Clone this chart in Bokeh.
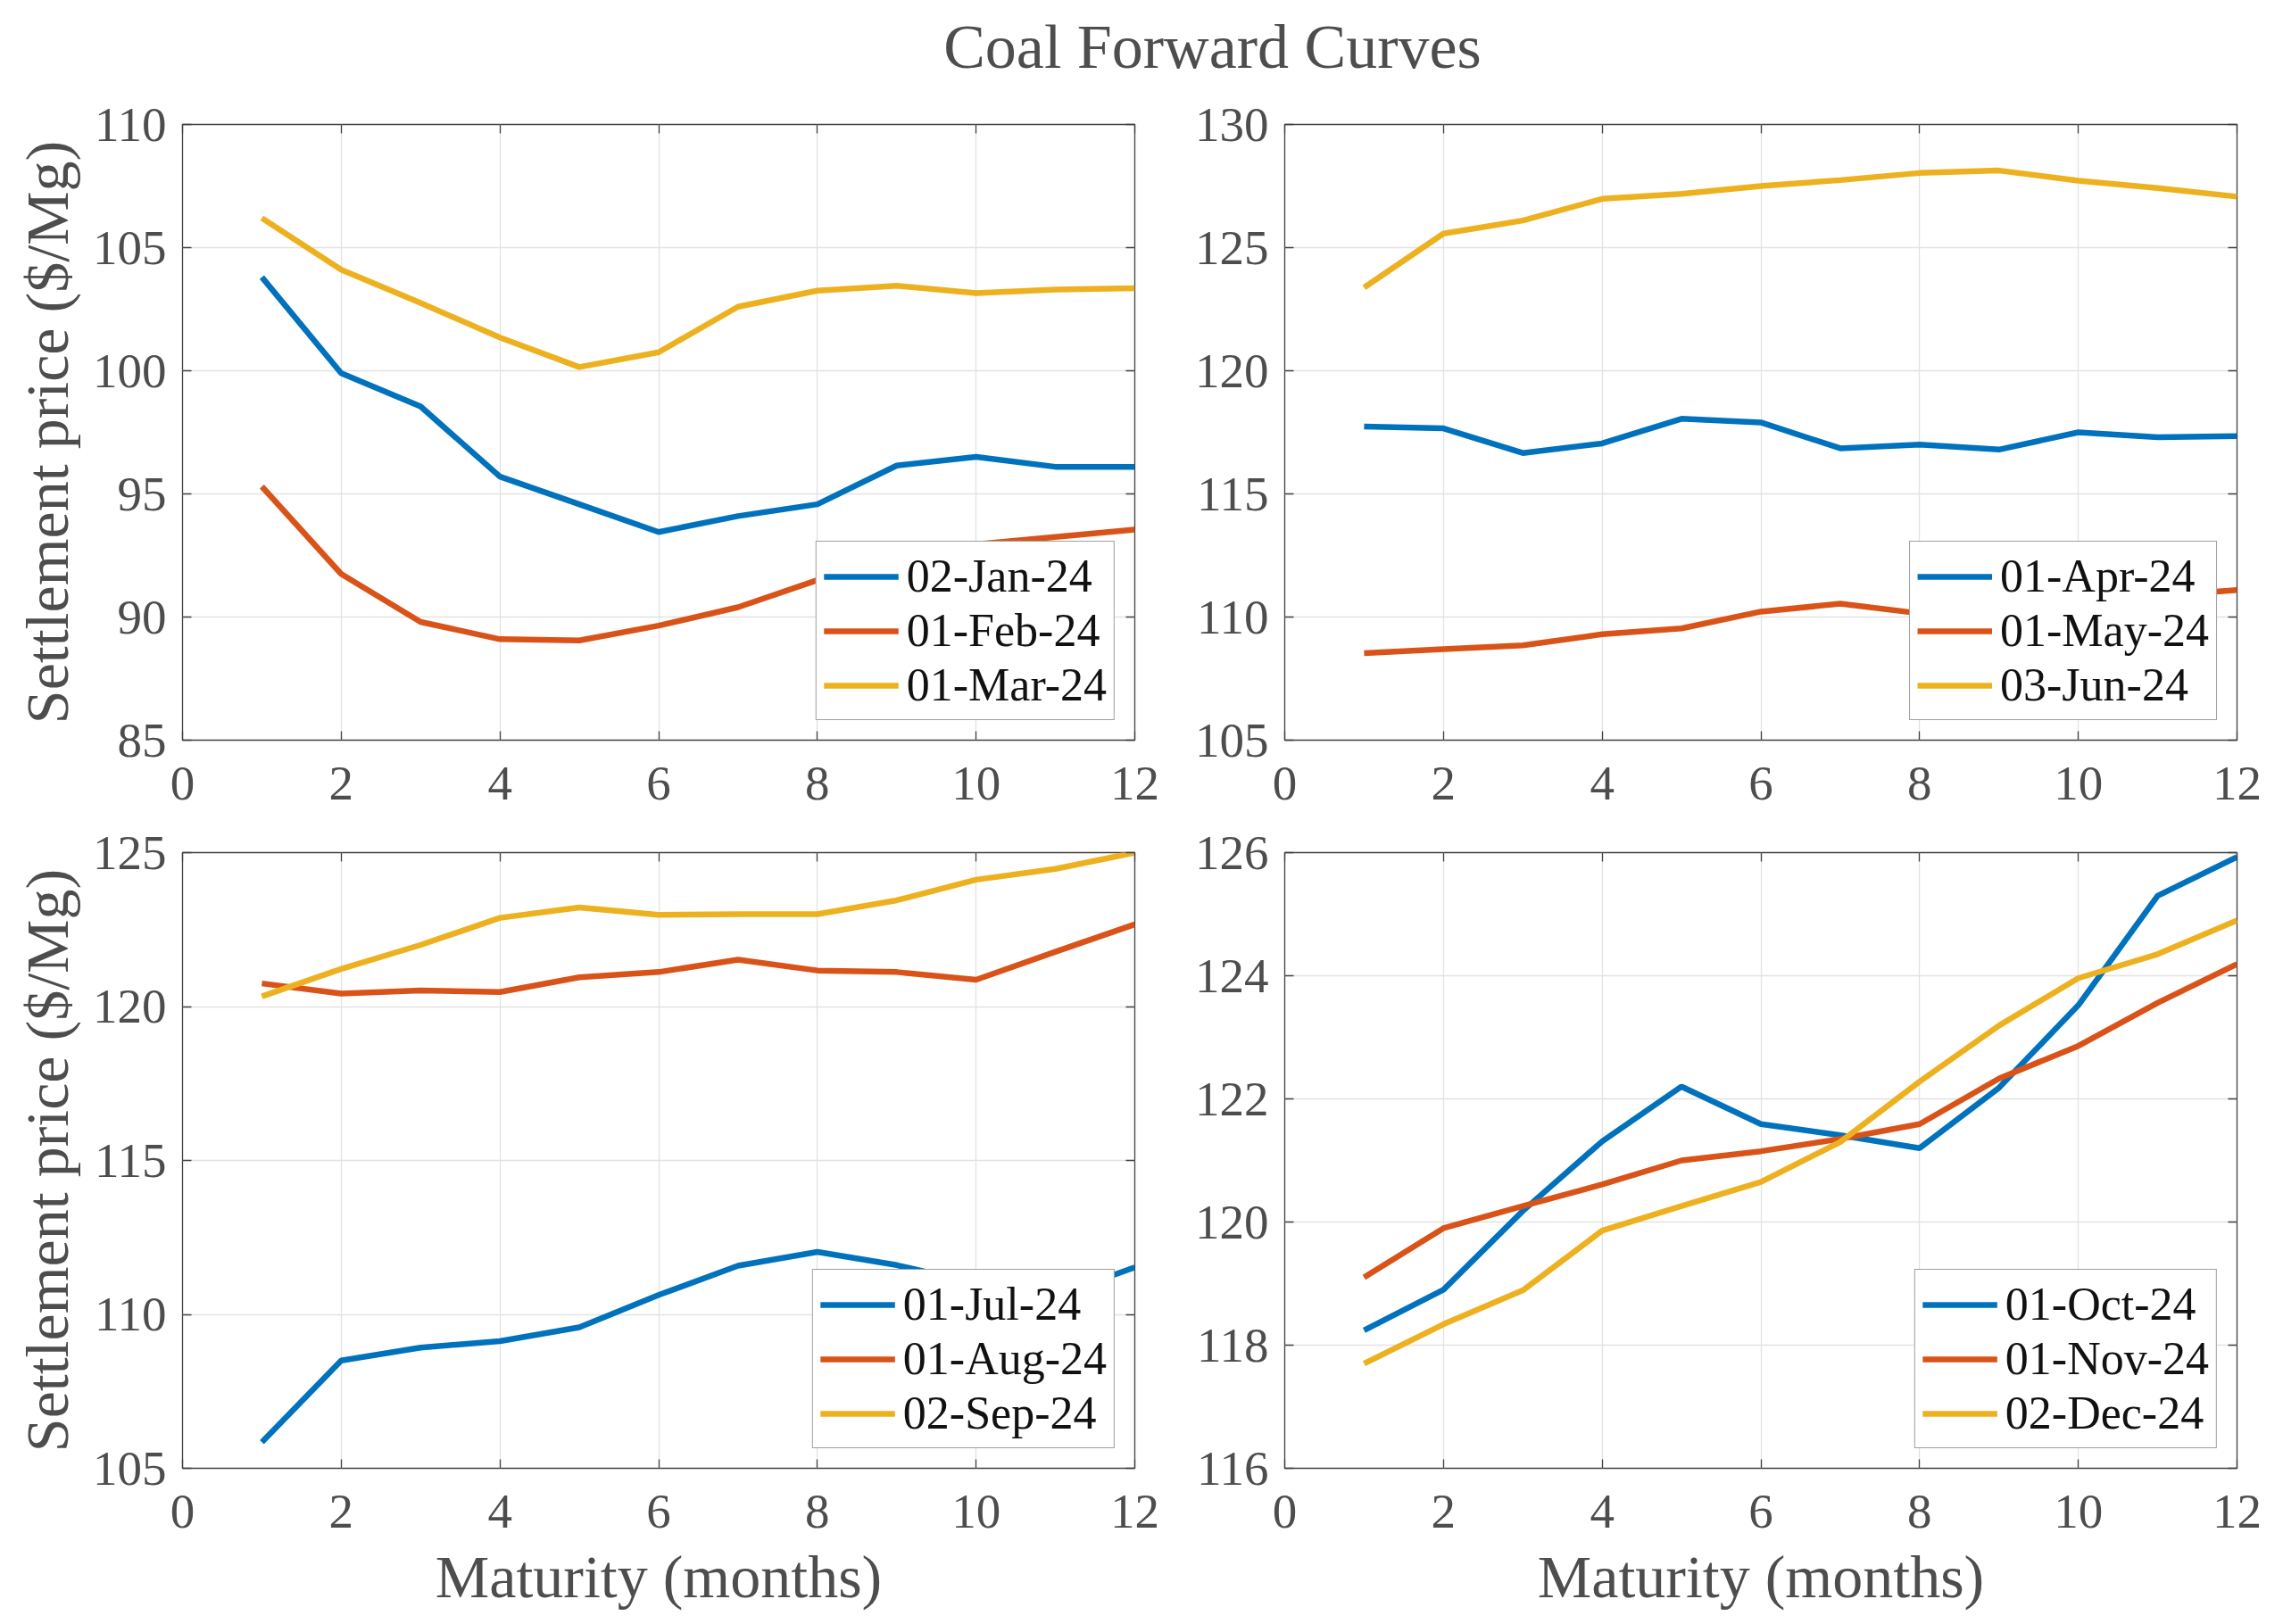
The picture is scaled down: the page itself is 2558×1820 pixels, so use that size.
from bokeh.plotting import figure
from bokeh.layouts import column, row
from bokeh.models import Range1d, FixedTicker, LinearAxis, Legend, LegendItem, Label
from bokeh.embed import file_html
from bokeh.resources import INLINE

# ---------------- data ----------------
maturity = [1, 2, 3, 4, 5, 6, 7, 8, 9, 10, 11, 12]

jan24 = [103.8, 99.9, 98.55, 95.7, 94.58, 93.45, 94.1, 94.58, 96.15, 96.5, 96.1, 96.1]
feb24 = [95.3, 91.75, 89.8, 89.1, 89.05, 89.65, 90.4, 91.5, 92.3, 92.95, 93.25, 93.55]
mar24 = [106.2, 104.1, 102.75, 101.35, 100.15, 100.75, 102.6, 103.25, 103.45, 103.15, 103.3, 103.35]

apr24 = [117.74, 117.66, 116.66, 117.05, 118.05, 117.9, 116.85, 117.0, 116.8, 117.5, 117.3, 117.35]
may24 = [108.53, 108.7, 108.85, 109.3, 109.54, 110.22, 110.54, 110.15, 110.3, 110.6, 110.85, 111.1]
jun24 = [123.38, 125.57, 126.1, 126.98, 127.18, 127.5, 127.74, 128.03, 128.13, 127.72, 127.42, 127.07]

jul24 = [105.85, 108.5, 108.92, 109.13, 109.58, 110.63, 111.58, 112.03, 111.6, 111.0, 110.6, 111.53]
aug24 = [120.75, 120.42, 120.52, 120.47, 120.95, 121.12, 121.52, 121.17, 121.12, 120.87, 121.78, 122.67]
sep24 = [120.33, 121.22, 122.0, 122.88, 123.22, 122.98, 123.0, 123.0, 123.45, 124.12, 124.47, 125.0]

oct24 = [118.24, 118.9, 120.18, 121.31, 122.2, 121.59, 121.41, 121.2, 122.18, 123.52, 125.3, 125.93]
nov24 = [119.1, 119.9, 120.26, 120.61, 121.0, 121.15, 121.35, 121.59, 122.33, 122.86, 123.56, 124.19]
dec24 = [117.7, 118.34, 118.89, 119.86, 120.26, 120.65, 121.3, 122.28, 123.19, 123.96, 124.35, 124.9]

x_ticks = [0, 2, 4, 6, 8, 10, 12]

panel_tl_labels = ["02-Jan-24", "01-Feb-24", "01-Mar-24"]
panel_tr_labels = ["01-Apr-24", "01-May-24", "03-Jun-24"]
panel_bl_labels = ["01-Jul-24", "01-Aug-24", "02-Sep-24"]
panel_br_labels = ["01-Oct-24", "01-Nov-24", "02-Dec-24"]

tl_yticks = [85, 90, 95, 100, 105, 110]
tr_yticks = [105, 110, 115, 120, 125, 130]
bl_yticks = [105, 110, 115, 120, 125]
br_yticks = [116, 118, 120, 122, 124, 126]

title_text = "Coal Forward Curves"
xlabel_text = "Maturity (months)"
ylabel_text = "Settlement price ($/Mg)"

# ---------------- style ----------------
COLORS = ["#0072BD", "#D95319", "#EDB120"]
FONT = "Liberation Serif"
TXT = "#4d4d4d"
AX = "#404040"
FW, FH = 1067, 690
PAGE_W, TITLE_H = 2546, 108


def style_axis(ax, ticks, show_labels=True):
    ax.ticker = FixedTicker(ticks=ticks)
    ax.axis_line_color = None
    ax.major_tick_in = 10
    ax.major_tick_out = 0
    ax.major_tick_line_color = AX
    ax.major_tick_line_width = 1.3
    ax.minor_tick_line_color = None
    ax.major_label_text_font = FONT
    ax.major_label_text_color = TXT
    ax.major_label_text_font_size = "55px"
    if not show_labels:
        ax.major_label_overrides = {t: "" for t in ticks}
        ax.major_label_standoff = 0


def style_label(ax, text, standoff):
    ax.axis_label = text
    ax.axis_label_text_font = FONT
    ax.axis_label_text_font_size = "68px"
    ax.axis_label_text_font_style = "normal"
    ax.axis_label_text_color = TXT
    ax.axis_label_standoff = standoff


def make_panel(yticks, labels, series, left, right, top, bottom, ylabel, xlabel):
    p = figure(frame_width=FW, frame_height=FH,
               x_range=Range1d(x_ticks[0], x_ticks[-1]),
               y_range=Range1d(yticks[0], yticks[-1]),
               output_backend="svg", toolbar_location=None,
               min_border_left=left, min_border_right=right,
               min_border_top=top, min_border_bottom=bottom,
               background_fill_color="white", border_fill_color="white")
    p.outline_line_color = AX
    p.outline_line_width = 1.3

    xa = p.xaxis[0]
    ya = p.yaxis[0]
    style_axis(xa, x_ticks)
    style_axis(ya, yticks)
    xa.major_label_standoff = 30
    ya.major_label_standoff = 18
    if ylabel:
        style_label(ya, ylabel, 10)
    if xlabel:
        style_label(xa, xlabel, 14)

    ra = LinearAxis()
    style_axis(ra, yticks, show_labels=False)
    p.add_layout(ra, "right")
    ta = LinearAxis()
    style_axis(ta, x_ticks, show_labels=False)
    p.add_layout(ta, "above")

    p.xgrid.ticker = FixedTicker(ticks=x_ticks)
    p.ygrid.ticker = FixedTicker(ticks=yticks)
    p.grid.grid_line_color = "#e2e2e2"
    p.grid.grid_line_width = 1.3

    items = []
    for lab, vals, col in zip(labels, series, COLORS):
        r = p.line(maturity, vals, line_color=col, line_width=6.5)
        items.append(LegendItem(label=lab, renderers=[r]))
    leg = Legend(items=items, location="bottom_right", margin=22,
                 padding=8, spacing=0, label_height=61,
                 glyph_width=84, glyph_height=20, label_standoff=9,
                 label_text_font=FONT, label_text_font_size="52px",
                 label_text_color="#111111",
                 border_line_color=AX, border_line_width=1.3,
                 background_fill_color="white", background_fill_alpha=1.0)
    p.add_layout(leg)
    return p


tl = make_panel(tl_yticks, panel_tl_labels, [jan24, feb24, mar24], 204, 40, 31, 80, ylabel_text, None)
tr = make_panel(tr_yticks, panel_tr_labels, [apr24, may24, jun24], 128, 40, 31, 80, None, None)
bl = make_panel(bl_yticks, panel_bl_labels, [jul24, aug24, sep24], 204, 40, 46, 160, ylabel_text, xlabel_text)
br = make_panel(br_yticks, panel_br_labels, [oct24, nov24, dec24], 128, 40, 46, 160, None, xlabel_text)

# title strip: a figure whose data space equals its pixel space
tfig = figure(width=PAGE_W, height=TITLE_H, x_axis_type=None, y_axis_type=None,
              x_range=Range1d(0, PAGE_W), y_range=Range1d(0, TITLE_H),
              output_backend="svg", toolbar_location=None,
              min_border=0, background_fill_color="white", border_fill_color="white")
tfig.outline_line_color = None
tfig.add_layout(Label(x=1358, y=TITLE_H - 52, text=title_text,
                      text_align="center", text_baseline="middle",
                      text_font=FONT, text_font_size="70px", text_color=TXT))

layout = column(tfig, row(tl, tr), row(bl, br))

open("out.html", "w").write(file_html(layout, INLINE))
